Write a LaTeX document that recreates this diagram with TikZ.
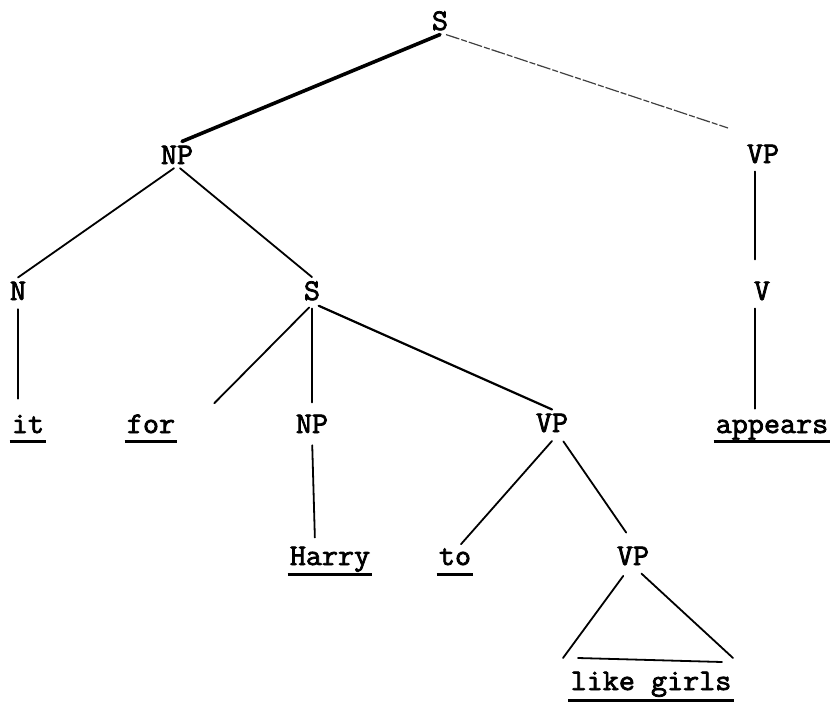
\documentclass[tikz,border=0pt]{standalone}
\usepackage{fontspec}
\newfontfamily\twfont{Latin Modern Mono}[FakeStretch=1.04, FakeBold=2.5]
\begin{document}
\begin{tikzpicture}[x=1pt,y=-1pt,
  lab/.style={font=\twfont\fontsize{30}{30}\selectfont, inner sep=4pt, anchor=base},
  edge/.style={line width=1.8pt, line cap=round},
  heavy/.style={line width=3.6pt, line cap=round},
  faint/.style={line width=1.2pt, black!75, dash pattern=on 14pt off 2pt on 6pt off 2pt},
  ul/.style={line width=3pt}]
\useasboundingbox (0,0) rectangle (833,709);
% nodes
\node[lab] (S0) at (440,30) {S};
\node[lab] (NP1) at (177,164) {NP};
\node[lab] (VP1) at (763,163) {VP};
\node[lab] (N2) at (18,300) {N};
\node[lab] (S2) at (312,300) {S};
\node[lab] (V2) at (762,300) {V};
\node[lab] (it) at (28,433) {it};
\node[lab] (for) at (151,433) {for};
\node[lab] (NP3) at (312,433) {NP};
\node[lab] (VP3) at (552,432) {VP};
\node[lab] (appears) at (772,433) {appears};
\node[lab] (Harry) at (330,565) {Harry};
\node[lab] (to) at (455,565) {to};
\node[lab] (VP4) at (633,565) {VP};
\node[lab] (lg) at (651,690) {like girls};
\coordinate (vpend) at (728,128);
\coordinate (tl) at (563,658);
\coordinate (tr) at (733,658);
\coordinate (bl) at (578,658);
\coordinate (br) at (722,662);
% connectors
\draw[heavy] (S0.south) -- ([xshift=5pt]NP1.north);
\draw[faint] ([xshift=6pt]S0.south) -- (vpend);
\draw[edge] ([xshift=-3pt]NP1.south) -- (N2.north);
\draw[edge] ([xshift=3pt]NP1.south) -- (S2.north);
\draw[edge, shorten <=4pt, shorten >=18pt] ([xshift=-8pt]VP1.south) -- ([xshift=-8pt]VP1.south |- V2.north);
\draw[edge, shorten <=5pt, shorten >=12pt] (N2.south) -- (N2.south |- it.north);
\draw[edge, shorten <=4pt, shorten >=10pt] (S2.south) -- ([xshift=28pt]for.north east);
\draw[edge, shorten <=4pt, shorten >=8pt] (S2.south) -- (S2.south |- NP3.north);
\draw[edge, line width=2.2pt, shorten <=3pt] ([xshift=4pt]S2.south) -- (VP3.north);
\draw[edge, shorten <=4pt, shorten >=7pt] ([xshift=-7pt]V2.south) -- ([xshift=-7pt]V2.south |- appears.north);
\draw[edge, shorten <=8pt, shorten >=5pt] (NP3.south) -- ([xshift=3pt]NP3.south |- Harry.north);
\draw[edge, shorten <=6pt] ([xshift=4pt]VP3.south) -- ([xshift=6pt]to.north);
\draw[edge, shorten <=6pt, shorten >=12pt] ([xshift=8pt]VP3.south) -- (VP4.north);
\draw[edge, shorten <=8pt] ([xshift=-5pt]VP4.south) -- (tl);
\draw[edge, shorten <=6pt] ([xshift=4pt]VP4.south) -- (tr);
\draw[edge] (bl) -- (br);
% underlines
\draw[ul] ([shift={(2pt,-8pt)}]it.base west) -- ([shift={(-2pt,-8pt)}]it.base east);
\draw[ul] ([shift={(2pt,-8pt)}]for.base west) -- ([shift={(-2pt,-8pt)}]for.base east);
\draw[ul] ([shift={(2pt,-8pt)}]appears.base west) -- ([shift={(-2pt,-8pt)}]appears.base east);
\draw[ul] ([shift={(2pt,-9pt)}]Harry.base west) -- ([shift={(-2pt,-9pt)}]Harry.base east);
\draw[ul] ([shift={(2pt,-9pt)}]to.base west) -- ([shift={(-2pt,-9pt)}]to.base east);
\draw[ul] ([shift={(2pt,-10pt)}]lg.base west) -- ([shift={(-2pt,-10pt)}]lg.base east);
\end{tikzpicture}
\end{document}
